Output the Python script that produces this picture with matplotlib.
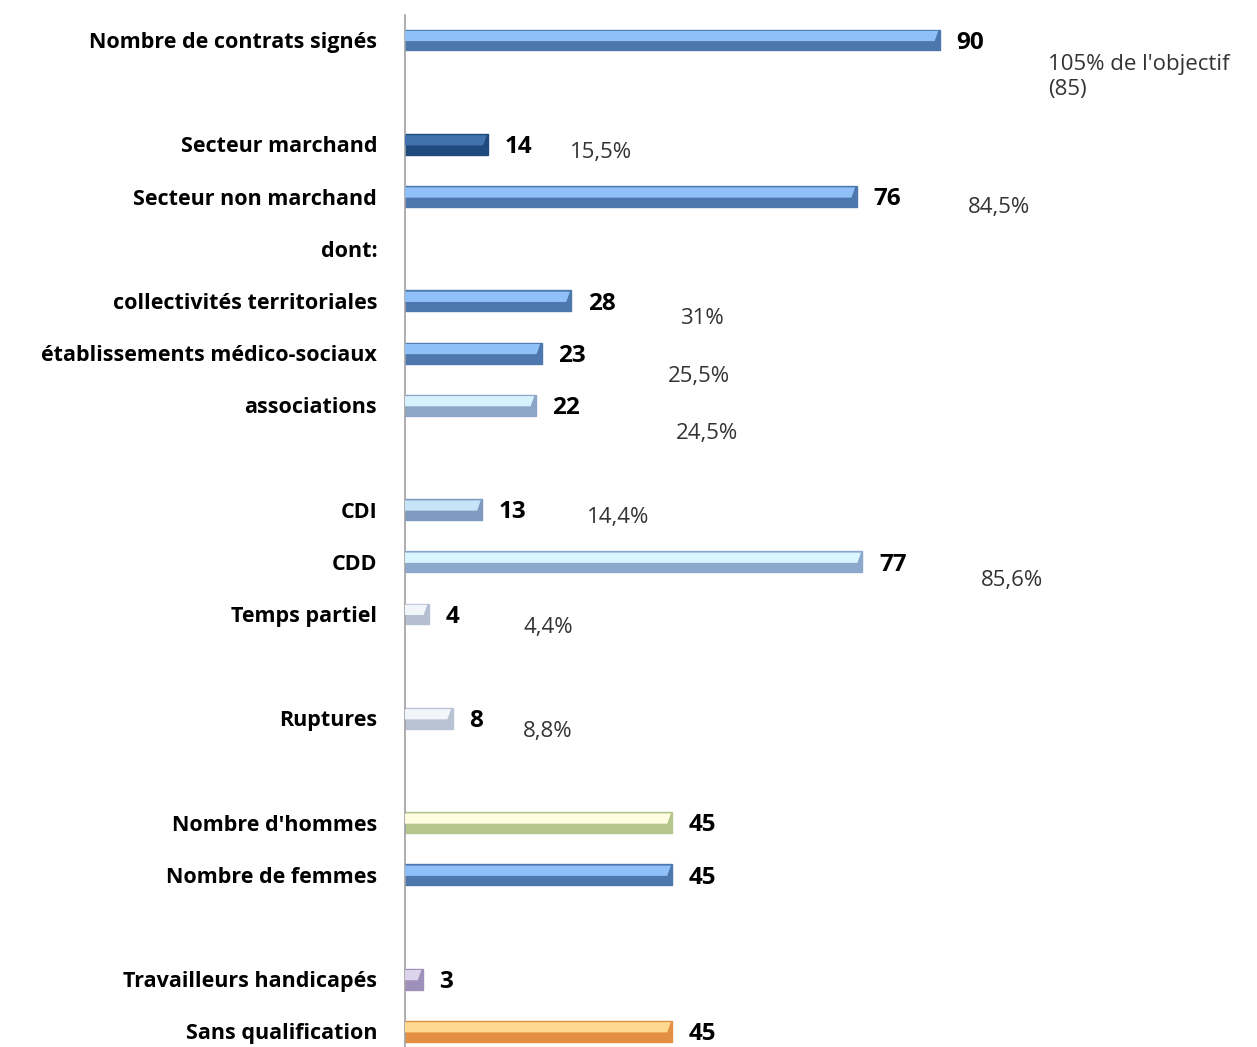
import numpy as np
import matplotlib.pyplot as plt
from matplotlib.patches import Polygon

plt.rcParams['font.family'] = ['Open Sans', 'DejaVu Sans']

# Données
labels = ['Nombre de contrats signés', '', 'Secteur marchand', 'Secteur non marchand',
          'dont:', 'collectivités territoriales', 'établissements médico-sociaux',
          'associations', '', 'CDI', 'CDD', 'Temps partiel', '', 'Ruptures', '',
          "Nombre d'hommes", 'Nombre de femmes', '', 'Travailleurs handicapés',
          'Sans qualification']
values = [90, np.nan, 14, 76, np.nan, 28, 23, 22, np.nan, 13, 77, 4, np.nan, 8, np.nan,
          45, 45, np.nan, 3, 45]

pct_text = ["105% de l'objectif\n(85)", '15,5%', '84,5%', '31%', '25,5%', '24,5%',
            '14,4%', '85,6%', '4,4%', '8,8%']
pct_row = [0, 2, 3, 5, 6, 7, 9, 10, 11, 13]

# mise en page des pourcentages (x en unités, décalage vertical en lignes)
pct_x = [108.2, 27.8, 94.8, 46.3, 44.3, 45.6, 30.6, 97.0, 19.9, 19.9]
pct_dy = [0.71, 0.15, 0.2, 0.33, 0.44, 0.55, 0.16, 0.35, 0.25, 0.25]

BLEU = ('#8fc0f7', '#4d78ad')
COULEURS = {
    0: BLEU, 2: ('#4272ab', '#1f4a7e'), 3: BLEU, 5: BLEU, 6: BLEU,
    7: ('#d8f1ff', '#8ca6c8'), 9: ('#c6e4f8', '#7e9ac0'), 10: ('#daf5ff', '#8ca8cc'),
    11: ('#f2f5fa', '#b4c0d2'), 13: ('#f2f5fa', '#b8c4d4'),
    15: ('#fffde2', '#b5c68c'), 16: BLEU,
    18: ('#dcd4ec', '#9f8fbb'), 19: ('#ffd98f', '#e39045'),
}

fig = plt.figure(figsize=(12.57, 10.47), dpi=100)
ax = fig.add_axes([405 / 1257, 0, 852 / 1257, 1 - 15 / 1047])

h = 0.40
px = 143.4 / 852  # unités par pixel
for i, v in enumerate(values):
    if np.isnan(v):
        continue
    clair, fonce = COULEURS[i]
    ax.barh(i, v, height=h, color=fonce, edgecolor=fonce, linewidth=1.0)
    top = i - h / 2
    d = min(5 * px, v / 3)
    # biseau supérieur clair
    ax.add_patch(Polygon([(0, top + h * 0.06), (v - d * 0.3, top + h * 0.06),
                          (v - d, top + h * 0.55), (0, top + h * 0.55)],
                         closed=True, facecolor=clair, edgecolor='none', zorder=3))
    # face droite
    ax.add_patch(Polygon([(v, top), (v, top + h), (v - d, top + h * 0.8), (v - d, top + h * 0.55)],
                         closed=True, facecolor=fonce, edgecolor='none', alpha=0.85, zorder=3))
    ax.annotate(str(int(v)), (v, i), xytext=(12, -2), textcoords='offset points',
                ha='left', va='center', fontsize=17.5, fontweight='bold', color='black')

for t, r, x, dy in zip(pct_text, pct_row, pct_x, pct_dy):
    ax.text(x, r + dy, t, ha='left', va='center', fontsize=16, color='#333333',
            linespacing=1.2)

ax.set_xlim(0, 143.4)
ax.set_ylim(19.3, -0.48)
ax.set_yticks(range(len(labels)))
ax.set_yticklabels(labels, fontsize=15.5, fontweight='bold')
ax.tick_params(axis='y', length=0, pad=20)
ax.set_xticks([])
for s in ['top', 'right', 'bottom']:
    ax.spines[s].set_visible(False)
ax.spines['left'].set_color('#a0a0a0')
ax.spines['left'].set_linewidth(1.2)

fig.savefig('out.png', dpi=100, facecolor='white')
